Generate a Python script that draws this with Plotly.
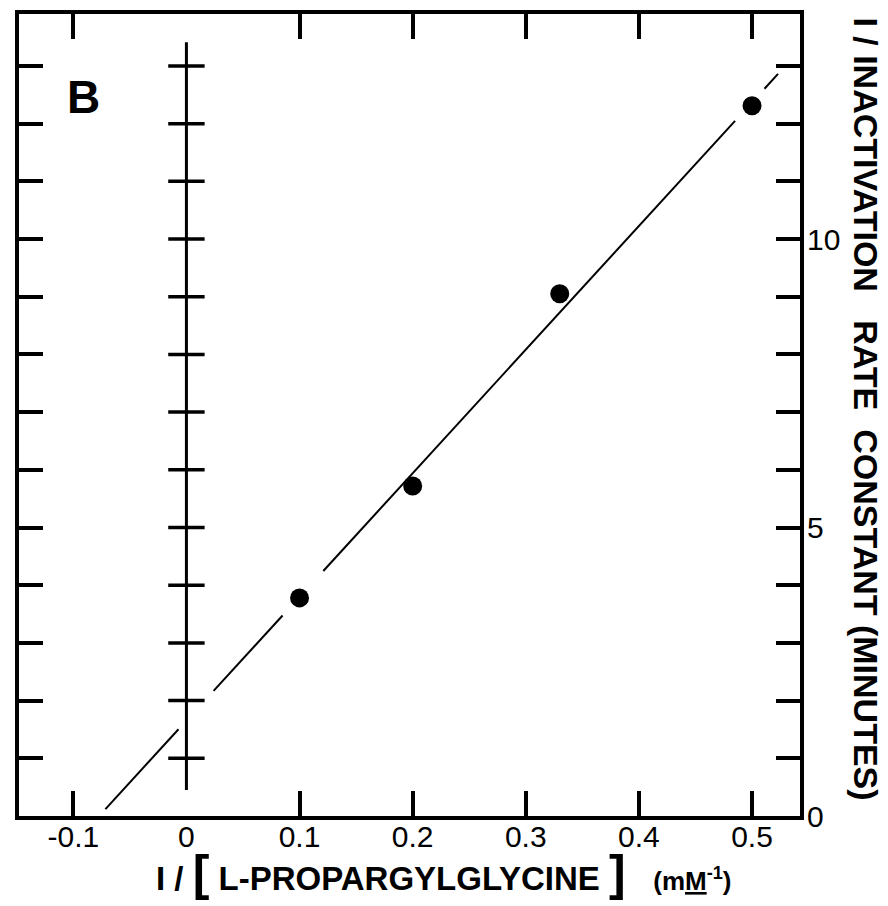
import plotly.graph_objects as go

# ---- data ----
conc_inv = [0.1, 0.2, 0.33, 0.5]            # 1/[L-propargylglycine] (mM^-1)
rate_inv = [3.78, 5.72, 9.05, 12.31]         # 1/inactivation rate constant (min)

fit_slope = 21.43
fit_intercept = 1.654
fit_segments = [(-0.0716, -0.007), (0.024, 0.085), (0.121, 0.485), (0.511, 0.523)]

x_tick_vals = [-0.1, 0, 0.1, 0.2, 0.3, 0.4, 0.5]
x_tick_text = ["-0.1", "0", "0.1", "0.2", "0.3", "0.4", "0.5"]
x_tick_marks = [-0.1, 0.1, 0.2, 0.3, 0.4, 0.5]

y_tick_marks = list(range(0, 14))
y_label_vals = [0, 5, 10]
y_label_text = ["0", "5", "10"]
inner_axis_ticks = list(range(1, 14))
inner_axis_span = [0.45, 13.41]

x_range = [-0.148, 0.5424]
y_range = [0, 13.9]

FONT = "Liberation Sans, Arial, sans-serif"

fig = go.Figure()

# fitted line, drawn in broken segments
lx, ly = [], []
for a, b in fit_segments:
    lx += [a, b, None]
    ly += [fit_intercept + fit_slope * a, fit_intercept + fit_slope * b, None]
fig.add_trace(go.Scatter(x=lx, y=ly, mode="lines", line=dict(color="black", width=2),
                         hoverinfo="skip", showlegend=False))

# inner vertical axis at x = 0 with crossing ticks
fig.add_trace(go.Scatter(x=[0, 0], y=inner_axis_span, mode="lines",
                         line=dict(color="black", width=3), hoverinfo="skip", showlegend=False))
fig.add_trace(go.Scatter(x=[0] * len(inner_axis_ticks), y=inner_axis_ticks, mode="markers",
                         marker=dict(symbol="line-ew", size=26, line=dict(color="black", width=3.5)),
                         hoverinfo="skip", showlegend=False))

# data points
fig.add_trace(go.Scatter(x=conc_inv, y=rate_inv, mode="markers",
                         marker=dict(color="black", size=19, line=dict(width=0)),
                         showlegend=False))

# invisible trace for the label-only axes
fig.add_trace(go.Scatter(x=[0], y=[0], xaxis="x2", yaxis="y2", mode="markers",
                         marker=dict(opacity=0), hoverinfo="skip", showlegend=False))

fig.update_layout(
    width=888, height=906,
    margin=dict(l=19, r=88, t=10, b=90),
    paper_bgcolor="white", plot_bgcolor="white",
    font=dict(family=FONT, color="black", size=30),
    xaxis=dict(range=x_range, tickvals=x_tick_marks, showticklabels=False,
               ticks="inside", ticklen=25, tickwidth=3.5, tickcolor="black",
               showline=True, linewidth=3.5, linecolor="black", mirror="ticks",
               showgrid=False, zeroline=False),
    xaxis2=dict(range=x_range, matches="x", overlaying="x", side="bottom",
                tickvals=x_tick_vals, ticktext=x_tick_text, ticks="",
                tickfont=dict(size=30, family=FONT),
                showline=False, showgrid=False, zeroline=False),
    yaxis=dict(range=y_range, side="right", tickvals=y_tick_marks, showticklabels=False,
               ticks="inside", ticklen=24, tickwidth=3.5, tickcolor="black",
               showline=True, linewidth=3.5, linecolor="black", mirror="ticks",
               showgrid=False, zeroline=False),
    yaxis2=dict(range=y_range, matches="y", overlaying="y", side="right",
                tickvals=y_label_vals, ticktext=y_label_text, ticks="",
                ticklabelstandoff=6,
                tickfont=dict(size=30, family=FONT),
                showline=False, showgrid=False, zeroline=False),
)

# panel letter
fig.add_annotation(x=-0.091, y=12.47, xref="x", yref="y", text="<b>B</b>", showarrow=False,
                   font=dict(size=46, family=FONT))

# x title
fig.add_annotation(
    x=0.544, y=0, xref="paper", yref="paper", yanchor="middle", yshift=-57,
    showarrow=False,
    text=("<b>I / <span style='font-size:50px'>[</span> L-PROPARGYLGLYCINE "
          "<span style='font-size:50px'>]</span>   "
          "<span style='font-size:26px'>(m<span style='text-decoration:underline'>M</span>"
          "<sup>-1</sup>)</span></b>"),
    font=dict(size=33, family=FONT))

# y title (right side, rotated)
fig.add_annotation(
    x=1.0845, y=0.507, xref="paper", yref="paper", textangle=90, showarrow=False,
    xanchor="center", yanchor="middle",
    text="<b>I / INACTIVATION   RATE  CONSTANT (MINUTES)</b>",
    font=dict(size=34, family=FONT))

fig.write_html("out.html")
